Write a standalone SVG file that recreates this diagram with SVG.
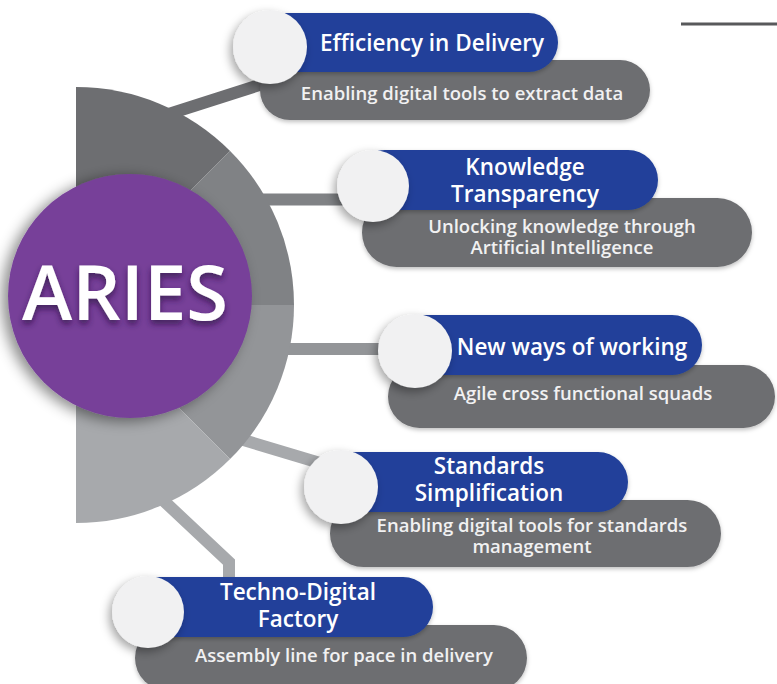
<svg xmlns="http://www.w3.org/2000/svg" width="777" height="684" viewBox="0 0 777 684">
<defs>
<filter id="sh" x="-30%" y="-30%" width="160%" height="160%"><feDropShadow dx="-3" dy="4" stdDeviation="5" flood-color="#000" flood-opacity="0.35"/></filter>
<filter id="shp" x="-20%" y="-20%" width="140%" height="140%"><feDropShadow dx="-6" dy="3" stdDeviation="7" flood-color="#000" flood-opacity="0.45"/></filter>
<filter id="sht" x="-10%" y="-10%" width="120%" height="130%"><feDropShadow dx="0" dy="4" stdDeviation="3" flood-color="#2a1040" flood-opacity="0.7"/></filter>
<filter id="shr" x="-10%" y="-20%" width="120%" height="150%"><feDropShadow dx="0" dy="2" stdDeviation="2" flood-color="#000" flood-opacity="0.25"/></filter>
</defs>
<style>
.blue{fill:#20419a;filter:url(#shr)}
.gray{fill:#6d6e71;filter:url(#shr)}
.dot{fill:#f1f1f2;filter:url(#sh)}
.t{font-family:"Open Sans",Lato,sans-serif;font-weight:600;fill:#ffffff;text-anchor:middle;font-size:22.5px}
.s{font-family:"Open Sans",Lato,sans-serif;font-weight:600;fill:#f1f1f2;text-anchor:middle;font-size:18.5px}
.bar{fill:none;stroke-width:12;stroke-linejoin:miter}
</style>
<rect width="777" height="684" fill="#ffffff"/>
<line x1="681" y1="24" x2="777" y2="24" stroke="#58595b" stroke-width="3"/>
<g id="connectors">
<line class="bar" x1="150" y1="120" x2="275" y2="80" stroke="#6d6e71"/>
<line class="bar" x1="250" y1="199.5" x2="360" y2="199.5" stroke="#808285" stroke-width="14"/>
<line class="bar" x1="270" y1="349" x2="400" y2="349" stroke="#939598"/>
<line class="bar" x1="220" y1="433" x2="330" y2="466" stroke="#a7a9ac" stroke-width="11"/>
<polyline class="bar" points="150,488 229,562 229,590" stroke="#a7a9ac"/>
</g>
<g id="hub">
<path d="M76,305 L76,87 A218,218 0 0 1 230.1,150.9 Z" fill="#6d6e71"/>
<path d="M76,305 L230.1,150.9 A218,218 0 0 1 294,305 Z" fill="#808285"/>
<path d="M76,305 L294,305 A218,218 0 0 1 230.1,459.1 Z" fill="#939598"/>
<path d="M76,305 L230.1,459.1 A218,218 0 0 1 76,523 Z" fill="#a7a9ac"/>
<circle cx="130" cy="296" r="122" fill="#774199" filter="url(#shp)"/>
<text x="125" y="320" font-family="'Open Sans',Lato,sans-serif" font-weight="600" font-size="76" fill="#ffffff" text-anchor="middle" filter="url(#sht)">ARIES</text>
</g>
<g id="item1">
<rect class="gray" x="260" y="60" width="390" height="60" rx="30"/>
<rect class="blue" x="250" y="13" width="308" height="59" rx="29.5"/>
<circle class="dot" cx="270" cy="47" r="37"/>
<text class="t" x="432" y="51">Efficiency in Delivery</text>
<text class="s" x="462" y="100">Enabling digital tools to extract data</text>
</g>
<g id="item2">
<rect class="gray" x="362" y="198" width="390" height="69" rx="34.5"/>
<rect class="blue" x="355" y="150" width="303" height="60" rx="30"/>
<circle class="dot" cx="373" cy="186" r="36"/>
<text class="t" x="525" y="175">Knowledge<tspan x="525" y="202">Transparency</tspan></text>
<text class="s" x="562" y="233">Unlocking knowledge through<tspan x="562" y="254">Artificial Intelligence</tspan></text>
</g>
<g id="item3">
<rect class="gray" x="388" y="365" width="387" height="63" rx="31.5"/>
<rect class="blue" x="395" y="315" width="307" height="60" rx="30"/>
<circle class="dot" cx="415" cy="351" r="37"/>
<text class="t" x="572" y="355">New ways of working</text>
<text class="s" x="583" y="400">Agile cross functional squads</text>
</g>
<g id="item4">
<rect class="gray" x="330" y="500" width="391" height="67" rx="33.5"/>
<rect class="blue" x="320" y="452" width="308" height="60" rx="30"/>
<circle class="dot" cx="341" cy="487" r="37"/>
<text class="t" x="489" y="474">Standards<tspan x="489" y="501">Simplification</tspan></text>
<text class="s" x="532" y="532">Enabling digital tools for standards<tspan x="532" y="553">management</tspan></text>
</g>
<g id="item5">
<rect class="gray" x="135" y="625" width="392" height="66" rx="33"/>
<rect class="blue" x="130" y="577" width="303" height="60" rx="30"/>
<circle class="dot" cx="148" cy="612" r="36"/>
<text class="t" x="298" y="600">Techno-Digital<tspan x="298" y="627">Factory</tspan></text>
<text class="s" x="344" y="662">Assembly line for pace in delivery</text>
</g>
</svg>
